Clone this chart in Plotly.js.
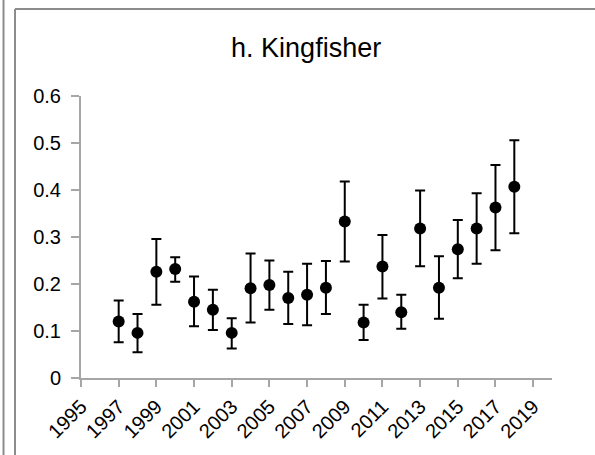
<!DOCTYPE html>
<html>
<head>
<meta charset="utf-8">
<script src="https://cdn.plot.ly/plotly-3.0.1.min.js"></script>
<style>html,body{margin:0;padding:0;background:#fff;}#chart{width:595px;height:455px;}</style>
</head>
<body>
<div id="chart"></div>
<script>
var years = [1997,1998,1999,2000,2001,2002,2003,2004,2005,2006,2007,2008,2009,2010,2011,2012,2013,2014,2015,2016,2017,2018];
var values = [0.120,0.096,0.226,0.232,0.162,0.145,0.096,0.191,0.198,0.170,0.177,0.192,0.333,0.118,0.237,0.140,0.318,0.192,0.274,0.318,0.363,0.407];
var upper  = [0.165,0.136,0.296,0.257,0.216,0.188,0.127,0.265,0.250,0.226,0.243,0.249,0.418,0.156,0.304,0.177,0.399,0.259,0.336,0.393,0.453,0.506];
var lower  = [0.076,0.055,0.156,0.205,0.110,0.102,0.063,0.118,0.145,0.115,0.112,0.136,0.248,0.081,0.169,0.105,0.238,0.126,0.212,0.243,0.272,0.308];
var xTicks = [1995,1997,1999,2001,2003,2005,2007,2009,2011,2013,2015,2017,2019];
var yTicks = [0,0.1,0.2,0.3,0.4,0.5,0.6];
var yTickText = ['0','0.1','0.2','0.3','0.4','0.5','0.6'];
var titleText = 'h. Kingfisher';

var plus = values.map(function(v,i){return upper[i]-v;});
var minus = values.map(function(v,i){return v-lower[i];});

var font = 'Liberation Sans, Arial, sans-serif';
var trace = {
  x: years, y: values, type: 'scatter', mode: 'markers',
  marker: {color: '#000', size: 12},
  error_y: {type: 'data', symmetric: false, array: plus, arrayminus: minus,
            color: '#000', thickness: 2, width: 5},
  hoverinfo: 'skip', showlegend: false
};
var frameColor = '#8c8c8c';
var layout = {
  width: 595, height: 455,
  margin: {l: 81, r: 43, t: 96, b: 77, pad: 0},
  paper_bgcolor: '#fff', plot_bgcolor: '#fff',
  font: {family: font, color: '#000'},
  title: {text: titleText, font: {family: font, size: 27, color: '#000'},
          x: 0.478, xref: 'paper', xanchor: 'center', y: 0.895, yref: 'container', yanchor: 'middle'},
  xaxis: {range: [1995, 2020], tickvals: xTicks, ticktext: xTicks.map(String), tickangle: -45,
          showgrid: false, zeroline: false, showline: true, linecolor: '#a6a6a6', linewidth: 2,
          ticks: 'outside', ticklen: 7, tickwidth: 2, tickcolor: '#a6a6a6',
          tickfont: {family: font, size: 20, color: '#000'}, fixedrange: true},
  yaxis: {range: [0, 0.6], tickvals: yTicks, ticktext: yTickText,
          showgrid: false, zeroline: false, showline: true, linecolor: '#a6a6a6', linewidth: 2,
          ticks: 'outside', ticklen: 8, tickwidth: 2, tickcolor: '#a6a6a6', ticklabelstandoff: 6,
          tickfont: {family: font, size: 20, color: '#000'}, fixedrange: true},
  shapes: [
    {type: 'line', xref: 'paper', yref: 'paper', x0: -0.1645, x1: -0.1645, y0: -0.3, y1: 1.4, line: {color: frameColor, width: 2}},
    {type: 'line', xref: 'paper', yref: 'paper', x0: -0.1401, x1: -0.1401, y0: -0.3, y1: 1.3085, line: {color: frameColor, width: 2}},
    {type: 'line', xref: 'paper', yref: 'paper', x0: -0.1401, x1: 1.1, y0: 1.3085, y1: 1.3085, line: {color: frameColor, width: 2}}
  ]
};
Plotly.newPlot('chart', [trace], layout, {displayModeBar: false, staticPlot: true});
</script>
</body>
</html>
